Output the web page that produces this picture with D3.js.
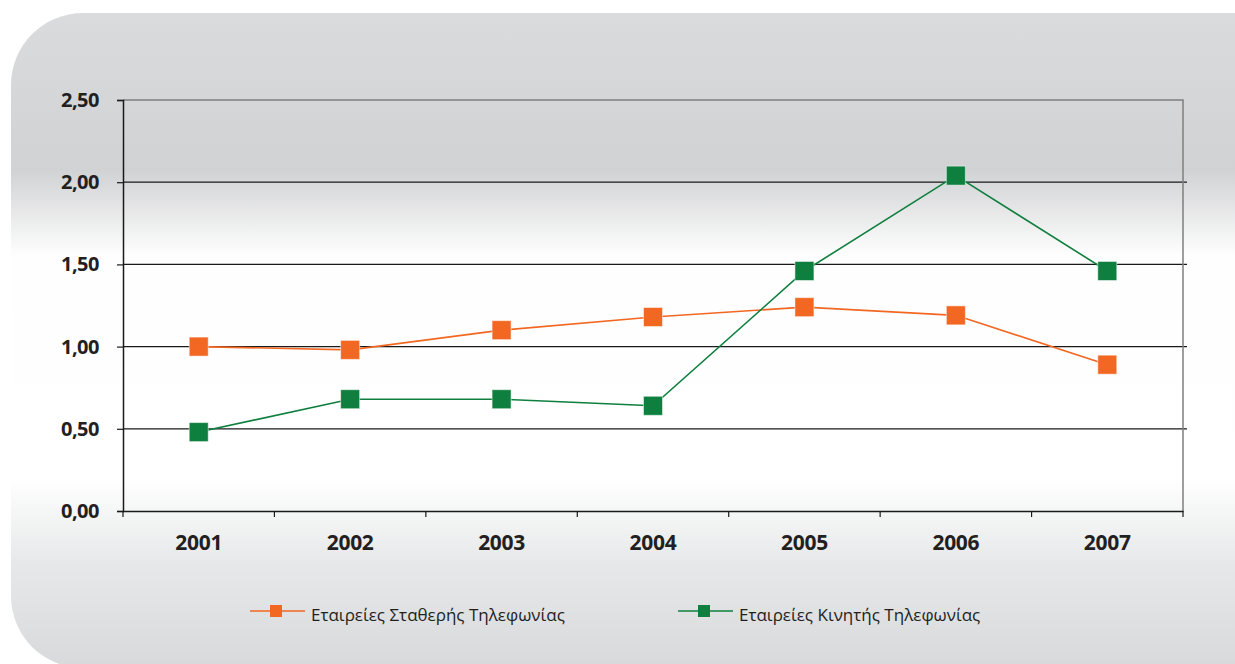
<!DOCTYPE html>
<html><head><meta charset="utf-8">
<script src="https://cdn.jsdelivr.net/npm/d3@7"></script>
<style>html,body{margin:0;padding:0;background:#fff;}svg{display:block;}</style>
</head><body>
<svg id="c" width="1235" height="664"></svg>
<script>
const years = ["2001","2002","2003","2004","2005","2006","2007"];
const fixedValues = [1.00, 0.98, 1.10, 1.18, 1.24, 1.19, 0.89];
const mobileValues = [0.48, 0.68, 0.68, 0.64, 1.46, 2.04, 1.46];
const yTicks = [0, 0.5, 1.0, 1.5, 2.0, 2.5];
const seriesNames = ["Εταιρείες Σταθερής Τηλεφωνίας", "Εταιρείες Κινητής Τηλεφωνίας"];
const seriesColors = ["#f26722", "#0e7f3e"];

const svg = d3.select("#c");
const defs = svg.append("defs");
const g = defs.append("linearGradient").attr("id","bg").attr("gradientUnits","userSpaceOnUse")
  .attr("x1",0).attr("y1",13).attr("x2",0).attr("y2",668);
[[0,"#dadbdd"],[0.24,"#d1d2d4"],[0.37,"#fefefe"],[0.71,"#ffffff"],[0.84,"#e7e8e9"],[1,"#d8d9db"]]
  .forEach(([o,c])=>g.append("stop").attr("offset",o).attr("stop-color",c));

svg.append("rect").attr("x",11).attr("y",13).attr("width",1300).attr("height",655)
  .attr("rx",72).attr("ry",72).attr("fill","url(#bg)");

const L=123, R=1183, T=100, B=511;
const x = d3.scaleBand().domain(years).range([L,R]);
const y = d3.scaleLinear().domain([0,2.5]).range([B,T]);

svg.append("g").selectAll("line").data(yTicks.filter(d=>d>0 && d<2.5)).join("line")
  .attr("x1",L).attr("x2",R+4).attr("y1",d=>y(d)).attr("y2",d=>y(d))
  .attr("stroke","#1a1a1a").attr("stroke-width",1.2);
svg.append("path").attr("d",`M${L},${y(2.5)}H${R}V${B}`).attr("fill","none")
  .attr("stroke","#7f7f7f").attr("stroke-width",1.5);

const fontFam = "'Open Sans', sans-serif";
const ya = svg.append("g").attr("transform",`translate(${L},0)`)
  .call(d3.axisLeft(y).tickValues(yTicks).tickSize(6).tickPadding(18)
    .tickFormat(d=>d3.format(".2f")(d).replace(".",",")));
ya.select(".domain").attr("stroke","#1a1a1a").attr("stroke-width",1.5);
ya.selectAll(".tick line").attr("stroke","#1a1a1a").attr("stroke-width",1.2);
ya.selectAll("text").attr("font-family",fontFam).attr("font-weight","bold")
  .attr("font-size","20px").attr("fill","#231f20").attr("letter-spacing","-0.5px");

const xa = svg.append("g").attr("transform",`translate(0,${B})`)
  .call(d3.axisBottom(x).tickSize(0).tickPadding(24));
xa.select(".domain").attr("stroke","#1a1a1a").attr("stroke-width",1.5);
xa.selectAll("text").attr("font-family",fontFam).attr("font-weight","bold")
  .attr("font-size","21px").attr("fill","#231f20").attr("letter-spacing","-0.3px");
const bounds = years.map(d=>x(d)).concat([R]);
xa.selectAll(".btick").data(bounds).join("line").attr("class","btick")
  .attr("x1",d=>d).attr("x2",d=>d).attr("y1",0).attr("y2",6)
  .attr("stroke","#1a1a1a").attr("stroke-width",1.2);

const cx = d=>x(d)+x.bandwidth()/2;
const line = d3.line().x(d=>cx(d.year)).y(d=>y(d.v));
[fixedValues, mobileValues].forEach((vals,i)=>{
  const data = years.map((yr,j)=>({year:yr, v:vals[j]}));
  svg.append("path").datum(data).attr("d",line).attr("fill","none")
    .attr("stroke",seriesColors[i]).attr("stroke-width",1.6);
  svg.append("g").selectAll("rect").data(data).join("rect")
    .attr("x",d=>cx(d.year)-9.5).attr("y",d=>y(d.v)-9.5).attr("width",19).attr("height",19)
    .attr("fill",seriesColors[i]).attr("stroke","#ffffff").attr("stroke-opacity",0.5).attr("stroke-width",1);
});

const legX = [250, 678];
seriesNames.forEach((name,i)=>{
  const lg = svg.append("g").attr("transform",`translate(${legX[i]},611)`);
  lg.append("line").attr("x1",0).attr("x2",55).attr("y1",0).attr("y2",0)
    .attr("stroke",seriesColors[i]).attr("stroke-width",1.6);
  lg.append("rect").attr("x",26-6).attr("y",-6).attr("width",12).attr("height",12)
    .attr("fill",seriesColors[i]);
  lg.append("text").attr("x",61).attr("y",10).text(name)
    .attr("font-family",fontFam).attr("font-size","17px").attr("fill","#231f20");
});
</script>
</body></html>
